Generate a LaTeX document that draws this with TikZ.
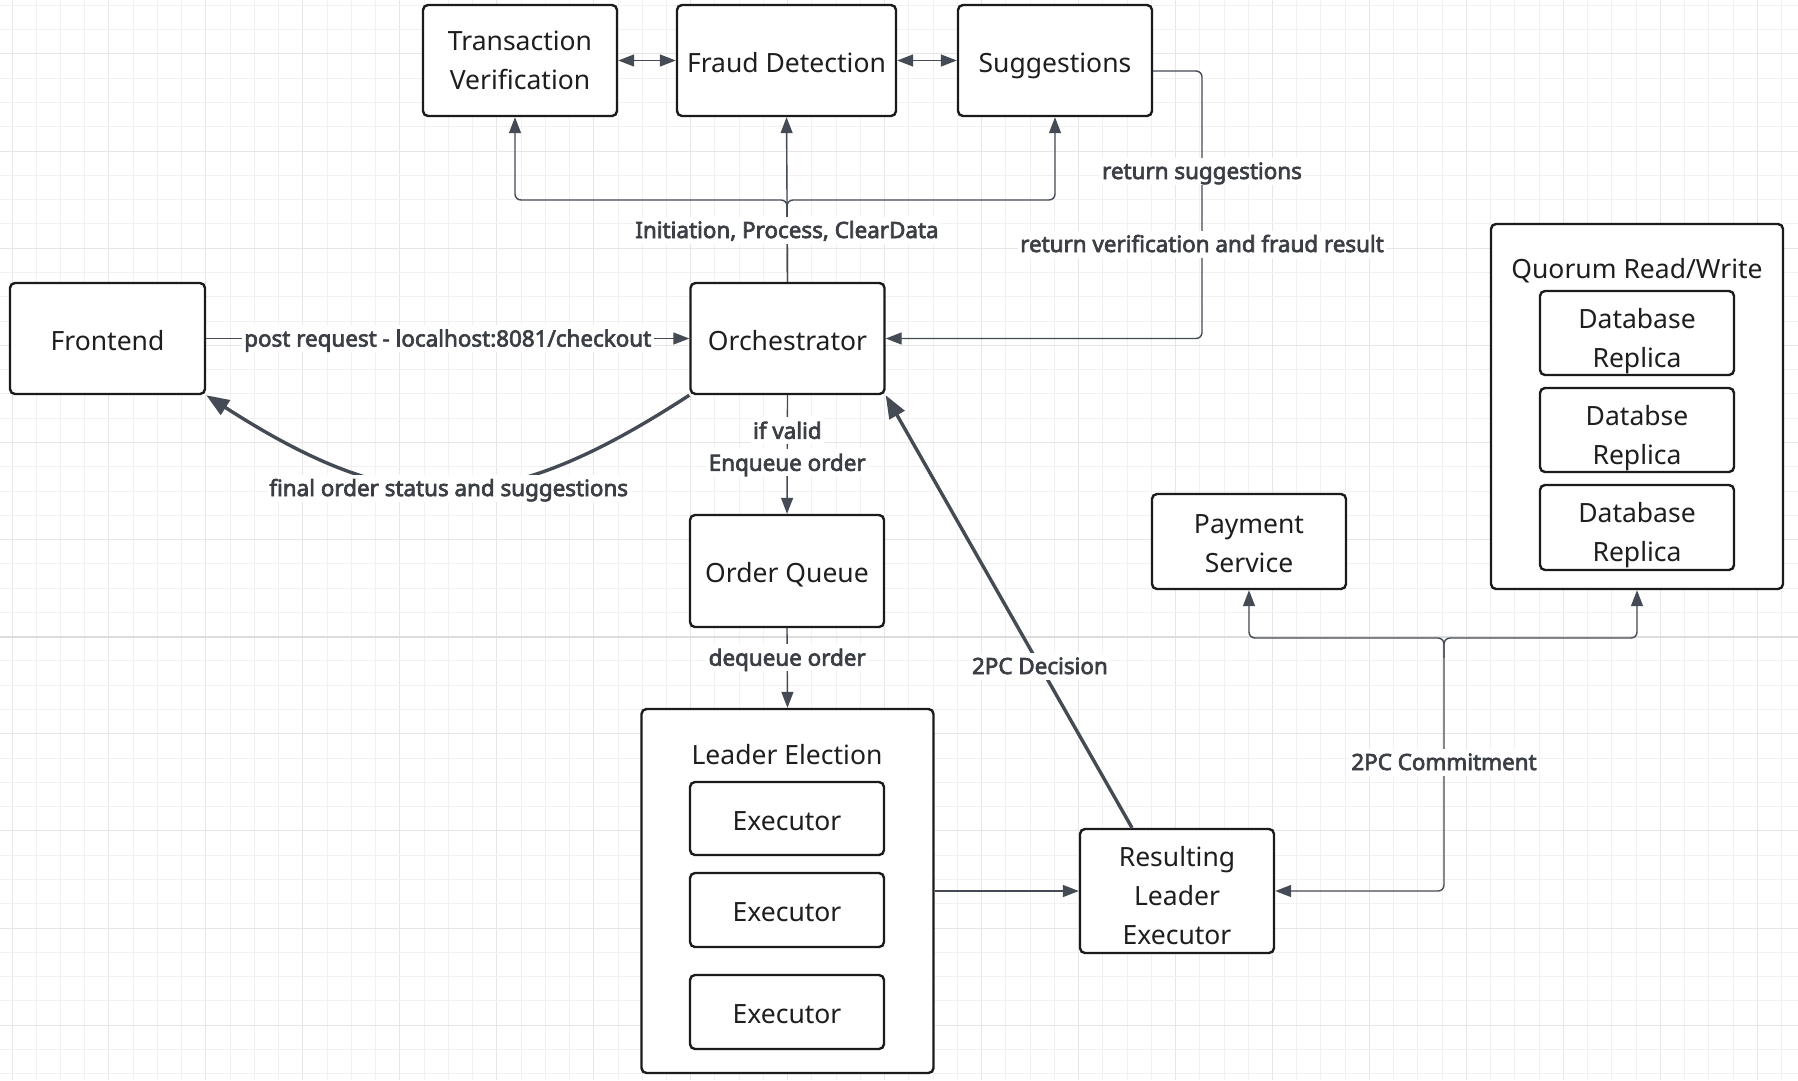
\documentclass[tikz,border=0pt]{standalone}
\usepackage{fontspec}
\setmainfont{Noto Sans}
\newfontfamily\lblfont{Noto Sans}[FakeBold=3]
\usetikzlibrary{arrows.meta,calc}
\definecolor{boxc}{HTML}{1B1B1B}
\definecolor{txtc}{HTML}{1E1E1E}
\definecolor{linec}{HTML}{454B54}
\definecolor{lblc}{HTML}{3B3F45}
\definecolor{gridmin}{HTML}{F1F1F1}
\definecolor{gridmaj}{HTML}{E6E6E6}
\definecolor{gridpage}{HTML}{DDDDDD}
\newcommand\boxstrut{\rule[-7pt]{0pt}{37pt}}
\newcommand\topstrut{\rule{0pt}{30pt}}
\newcommand\shortstrut{\rule{0pt}{25.5pt}}
\newcommand\tallstrut{\rule{0pt}{36.5pt}}
\newcommand\botstrut{\rule[-7pt]{0pt}{7pt}}
\newcommand\lblstrut{\rule[-5.5pt]{0pt}{27pt}}
\begin{document}
\begin{tikzpicture}[x=1pt,y=-1pt,
  mbox/.style={draw=boxc, line width=2.4pt, rounded corners=5pt, fill=white, align=center,
    font=\fontsize{26.5}{39}\selectfont, text=txtc, inner sep=0pt},
  box/.style={mbox, execute at begin node=\boxstrut},
  plain/.style={font=\fontsize{26.5}{39}\selectfont, text=txtc, inner sep=0pt,
    execute at begin node=\boxstrut},
  lbl/.style={fill=white, font=\lblfont\fontsize{22.4}{27}\selectfont, text=lblc,
    inner xsep=2.5pt, inner ysep=0pt, execute at begin node=\lblstrut},
  conn/.style={draw=linec, line width=1.4pt, -{Triangle[length=16pt,width=12pt]}},
  dconn/.style={draw=linec, line width=1.4pt, {Triangle[length=16pt,width=12pt]}-{Triangle[length=16pt,width=12pt]}},
  thickconn/.style={draw=linec, line width=3.4pt, -{Triangle[length=23pt,width=17pt]}},
]
\useasboundingbox (0,0) rectangle (1798,1080);
\fill[white] (0,0) rectangle (1798,1080);
% grid
\foreach \i in {0,...,74}{
  \pgfmathtruncatemacro\m{mod(\i,4)}
  \ifnum\m=0 \def\gc{gridmaj}\else\def\gc{gridmin}\fi
  \draw[draw=\gc, line width=1pt] ({12+\i*24.24},0) -- ({12+\i*24.24},1080);
}
\foreach \j in {0,...,44}{
  \pgfmathtruncatemacro\m{mod(\j,4)}
  \ifnum\m=2 \def\gc{gridmaj}\else\def\gc{gridmin}\fi
  \draw[draw=\gc, line width=1pt] (0,{5.4+\j*24.28}) -- (1798,{5.4+\j*24.28});
}
\draw[draw=gridpage, line width=2pt] (0,636.7) -- (1798,636.7);

% boxes
\node[mbox, minimum width=194pt, minimum height=111pt] (tv) at (520,60.5) {\shortstrut Transaction\\Verification\botstrut};
\node[box, minimum width=219pt, minimum height=111pt] (fd) at (786.5,60.5) {Fraud Detection};
\node[box, minimum width=194pt, minimum height=111pt] (sug) at (1055,60.5) {Suggestions};
\node[box, minimum width=195pt, minimum height=111pt] (front) at (107.5,338.5) {Frontend};
\node[box, minimum width=194pt, minimum height=111pt] (orch) at (787.5,338.5) {Orchestrator};
\node[box, minimum width=194pt, minimum height=112pt] (oq) at (787,571) {Order Queue};
\node[mbox, minimum width=292pt, minimum height=364pt] (le) at (787.5,891) {};
\node[plain] (lelbl) at (787,752.5) {Leader Election};
\node[box, minimum width=194pt, minimum height=73pt] (ex1) at (787,818.5) {Executor};
\node[box, minimum width=194pt, minimum height=74pt] (ex2) at (787,910) {Executor};
\node[box, minimum width=194pt, minimum height=74pt] (ex3) at (787,1012) {Executor};
\node[mbox, minimum width=194pt, minimum height=124pt] (res) at (1177,891) {\tallstrut Resulting\\Leader\\Executor\botstrut};
\node[mbox, minimum width=194pt, minimum height=95pt] (pay) at (1249,541.5) {\topstrut Payment\\Service\botstrut};
\node[mbox, minimum width=292pt, minimum height=365pt] (quo) at (1637,406.5) {};
\node[plain] (quolbl) at (1637,267) {Quorum Read/Write};
\node[mbox, minimum width=194pt, minimum height=84pt] (db1) at (1637,333) {\tallstrut Database\\Replica\botstrut};
\node[mbox, minimum width=194pt, minimum height=84pt] (db2) at (1637,430) {\tallstrut Databse\\Replica\botstrut};
\node[mbox, minimum width=194pt, minimum height=85pt] (db3) at (1637,527.5) {\tallstrut Database\\Replica\botstrut};

% coordinates
\coordinate (jt) at (787,200);
\coordinate (rs) at (1202,200);
\coordinate (cj) at (1444,638);

% top connectors
\draw[dconn] (tv.east) -- (fd.west);
\draw[dconn] (fd.east) -- (sug.west);
\draw[conn, rounded corners=6pt] (orch.north) -- (jt) -| ([xshift=-5pt]tv.south);
\draw[conn, rounded corners=6pt] ([yshift=-20pt]jt) -- (jt) -| (sug.south);
\draw[conn] (orch.north) -- (fd.south);
\node[lbl] (linit) at (787,230) {Initiation, Process, ClearData};

% return path
\draw[conn, rounded corners=6pt] ([yshift=-10.5pt]sug.east) -- ([yshift=-10.5pt]sug.east -| rs) |- (orch.east);
\node[lbl] (lrs) at (1202,171) {return suggestions};
\node[lbl] (lrv) at (1202,244) {return verification and fraud result};

% frontend
\draw[conn] (front.east) -- node[lbl] (lpost) {post request - localhost:8081/checkout} (orch.west);
\draw[thickconn] (orch.south west) .. controls (499,519) and (399,519) .. node[lbl, pos=0.5] (lfinal) {final order status and suggestions} (front.south east);

% queue
\draw[conn] (orch.south) -- node[lbl, pos=0.30] (lvalid) {if valid} node[lbl, pos=0.57] (lenq) {Enqueue order} (oq.north);
\draw[conn] (oq.south) -- node[lbl, pos=0.37] (ldeq) {dequeue order} (le.north);
\draw[conn] (le.east) -- (res.west);

% 2PC decision
\draw[thickconn] ([xshift=-45pt]res.north) -- node[lbl, pos=0.374] (ldec) {2PC Decision} (orch.south east);

% 2PC commitment
\draw[dconn, rounded corners=6pt] (res.east) -| (cj) -| (pay.south);
\draw[conn, rounded corners=6pt] ([yshift=-20pt]cj) -- (cj) -| (quo.south);
\node[lbl] (lcom) at (1444,762) {2PC Commitment};
\end{tikzpicture}
\end{document}
